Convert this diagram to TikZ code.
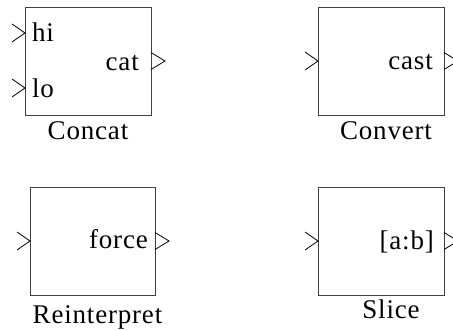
\documentclass[tikz,border=0pt]{standalone}
\usepackage{fontspec}
\setmainfont{Liberation Serif}[LetterSpace=3]
\begin{document}
\begin{tikzpicture}[x=1pt,y=-1pt,
  block/.style={draw=black!75,line width=1.2pt,minimum width=126pt,minimum height=108pt,inner sep=0pt,anchor=north west},
  chev/.style={draw=black,line width=0.8pt},
  txt/.style={inner sep=0pt,font=\fontsize{27}{32}\selectfont}]
\useasboundingbox (0,0) rectangle (453,330);
% blocks
\node[block] (concat) at (25,7) {};
\node[block] (convert) at (318,7) {};
\node[block,minimum width=125pt] (reint) at (30,187) {};
\node[block] (slice) at (318,187) {};
% port coordinates
\coordinate (cin1) at (25,33);
\coordinate (cin2) at (25,88);
\coordinate (cout) at (151,61);
\coordinate (vin) at (318,61);
\coordinate (vout) at (444,61);
\coordinate (rin) at (30,241);
\coordinate (rout) at (155,241);
\coordinate (sin) at (318,241);
\coordinate (sout) at (444,241);
% input chevrons
\foreach \p in {cin1,cin2,vin,rin,sin}{
  \draw[chev] ([shift={(-13,-9)}]\p) -- (\p) -- ([shift={(-13,9)}]\p);
}
% output chevrons
\foreach \p in {cout,vout,rout,sout}{
  \draw[chev] ([shift={(0,-8.5)}]\p) -- ([shift={(14,0)}]\p) -- ([shift={(0,8.5)}]\p);
}
% port texts
\node[txt,anchor=base west] (hi) at (32,41) {hi};
\node[txt,anchor=base west] (lo) at (32,97) {lo};
\node[txt,anchor=base east] (cat) at (139,70) {cat};
\node[txt,anchor=base east] (cast) at (433,69) {cast};
\node[txt,anchor=base east] (force) at (148,248) {force};
\node[txt,anchor=base east] (ab) at (434,249) {[a:b]};
% block labels
\node[txt,anchor=base] (lconcat) at (88,139) {Concat};
\node[txt,anchor=base] (lconvert) at (386,139) {Convert};
\node[txt,anchor=base] (lreint) at (97.5,323) {Reinterpret};
\node[txt,anchor=base] (lslice) at (391,318) {Slice};
\end{tikzpicture}
\end{document}
